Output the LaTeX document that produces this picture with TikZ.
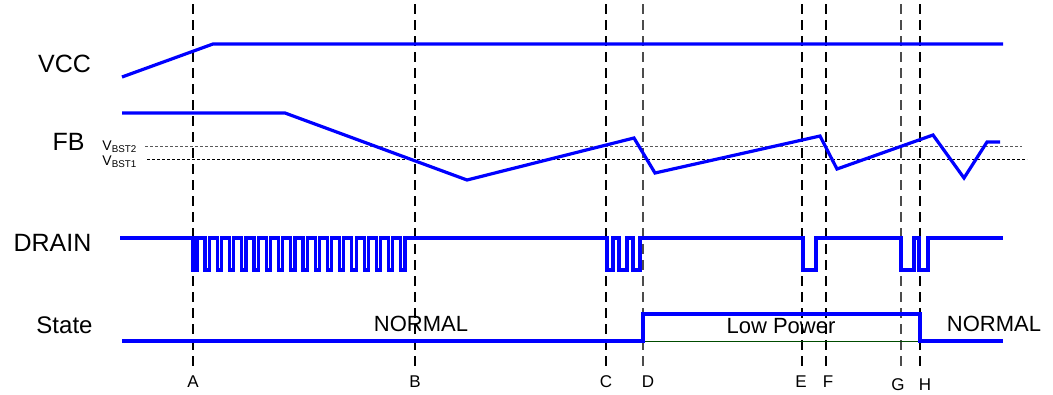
\documentclass[tikz,border=0pt]{standalone}
\usepackage{fontspec}
\setmainfont{Liberation Sans}
\usetikzlibrary{positioning}

\tikzset{
    wave/.style={blue, line width=3.2pt, line join=miter},
    eventline/.style={dash pattern=on 10pt off 6pt, line width=1.2pt},
    levelline/.style={dash pattern=on 3pt off 2pt, line width=0.9pt},
    siglabel/.style={inner sep=0pt, font=\fontsize{25}{30}\selectfont},
    statetext/.style={inner sep=0pt, font=\fontsize{22}{26}\selectfont},
    evlabel/.style={inner sep=0pt, font=\fontsize{17}{20}\selectfont},
    lvllabel/.style={inner sep=0pt, anchor=base east, font=\fontsize{14}{16}\selectfont}
}

\begin{document}
\begin{tikzpicture}[x=1pt,y=-1pt]
    \useasboundingbox (0,0) rectangle (1053,394);

    % event markers
    \foreach \n/\x/\c/\lx/\ly in {A/193/black/193/382, B/415/black/415/382,
            C/606/black/606/382, D/643/black!70/648/382, E/802/black/801/382,
            F/826/black/828/382, G/901/black!70/898/385, H/920/black/925/385}{
        \coordinate (t\n) at (\x,4);
        \coordinate (b\n) at (\x,368);
        \draw[eventline, \c] (t\n) -- (b\n);
        \node[evlabel] (l\n) at (\lx,\ly) {\n};
    }

    % signal names
    \node[siglabel] (vcc) at (64.5,63.5) {VCC};
    \node[siglabel] (fb) at (68.5,141.5) {FB};
    \node[siglabel] (drain) at (52.5,242.5) {DRAIN};
    \node[siglabel, font=\fontsize{24}{28}\selectfont] (state) at (64.5,325) {State};

    % thresholds
    \coordinate (bst2l) at (145,146);
    \coordinate (bst2r) at (1022,146);
    \coordinate (bst1l) at (147,159);
    \coordinate (bst1r) at (1027,159);
    \draw[levelline, black!65] (bst2l) -- (bst2r);
    \draw[levelline, black] (bst1l) -- (bst1r);
    \node[lvllabel] (vbst2) at (137,150) {V\textsubscript{BST2}};
    \node[lvllabel] (vbst1) at (137,165) {V\textsubscript{BST1}};

    % VCC
    \draw[wave] (122,77) -- (213,44) -- (1003,44);

    % FB
    \draw[wave] (122,113) -- (285,113) -- (467,180) -- (634,138) -- (655,173)
        -- (820,136) -- (837,169) -- (933,135) -- (964,178) -- (987,142) -- (1000,142);

    % DRAIN
    \draw[wave] (120,238) -- (193,238) -- (193,270) -- (197,270)
        \foreach \k in {1,...,17}{ -- ++(0,-32) -- ++(8,0) -- ++(0,32) -- ++(4.24,0) }
        -- ++(0,-32) -- (607,238) -- (607,270) -- (613,270) -- (613,238)
        -- (619,238) -- (619,270) -- (627,270) -- (627,238) -- (633,238)
        -- (633,270) -- (640,270) -- (640,238) -- (803,238) -- (803,270)
        -- (816,270) -- (816,238) -- (901,238) -- (901,270) -- (914,270)
        -- (914,238) -- (919,238) -- (919,270) -- (928,270) -- (928,238)
        -- (1003,238);

    % State
    \draw[black!50!green!60!black, line width=0.8pt] (643,341) -- (920,341);
    \draw[wave] (122,341) -- (643,341) -- (643,314) -- (920,314) -- (920,341) -- (1003,341);
    \node[statetext] (normal1) at (421,324) {NORMAL};
    \node[statetext] (lowpower) at (781,326) {Low Power};
    \node[statetext] (normal2) at (994,324) {NORMAL};
\end{tikzpicture}
\end{document}
